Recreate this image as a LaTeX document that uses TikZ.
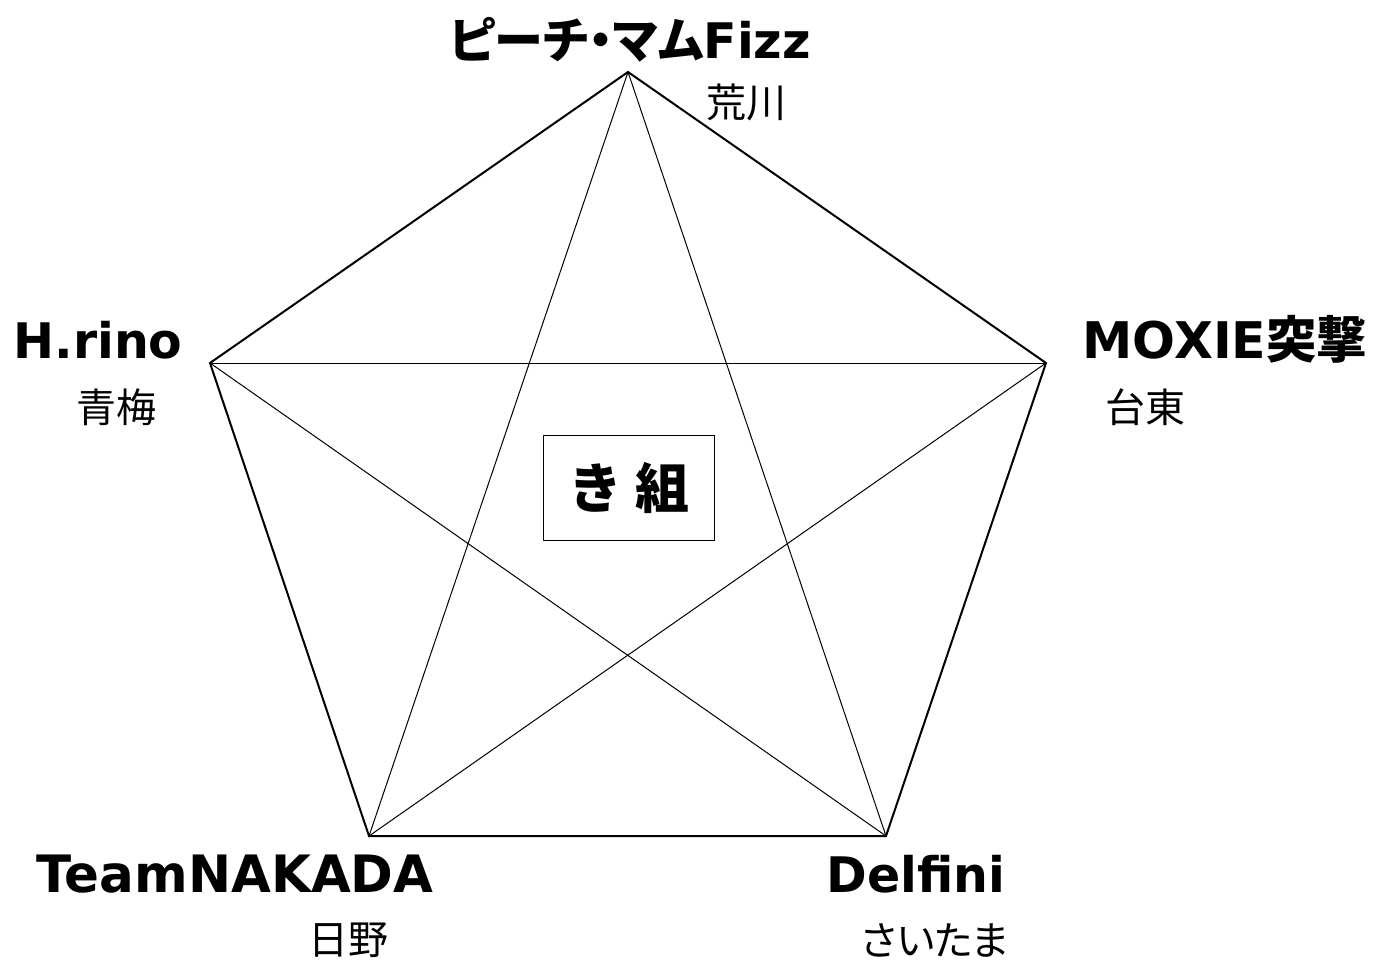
\documentclass[tikz,border=0pt]{standalone}
\usepackage{fontspec}
\setmainfont{DejaVu Sans}
\newfontfamily\jp{Noto Sans CJK JP}
\newfontfamily\jpp{Noto Sans CJK JP}[RawFeature=+palt]
\begin{document}
\begin{tikzpicture}[x=1pt,y=-1pt,
  outer/.style={line width=2pt,line join=miter},
  inner/.style={line width=1pt},
  teamlabel/.style={anchor=base,inner sep=0pt,font=\fontsize{49}{50}\selectfont\bfseries},
  homelabel/.style={anchor=center,inner sep=0pt,font=\fontsize{40}{42}\selectfont\jp}]
\useasboundingbox (0,0) rectangle (1391,967);
\coordinate (T) at (628,72);
\coordinate (L) at (210,363);
\coordinate (R) at (1046,363);
\coordinate (BL) at (369,836);
\coordinate (BR) at (886,836);
\draw[outer] (T) -- (R) -- (BR) -- (BL) -- (L) -- cycle;
\draw[inner] (T) -- (BL);
\draw[inner] (T) -- (BR);
\draw[inner] (L) -- (R);
\draw[inner] (L) -- (BR);
\draw[inner] (R) -- (BL);
\node[draw,line width=1.5pt,fill=white,minimum width=171pt,minimum height=105pt,inner sep=0pt,
  font=\fontsize{54}{56}\selectfont\jp\bfseries] (grp) at (629,488) {き 組};
\node[teamlabel] (t1) at (630,58) {{\jpp\bfseries ピーチ・マム}Fizz};
\node[homelabel] (h1) at (746,102) {荒川};
\node[teamlabel] (t2) at (98,358) {H.rino};
\node[homelabel] (h2) at (116,407) {青梅};
\node[teamlabel,font=\fontsize{50.5}{52}\selectfont\bfseries] (t3) at (1225,358) {MOXIE{\jp\bfseries 突撃}};
\node[homelabel] (h3) at (1145,407) {台東};
\node[teamlabel,font=\fontsize{51.5}{52}\selectfont\bfseries] (t4) at (235,892) {TeamNAKADA};
\node[homelabel] (h4) at (348,940) {日野};
\node[teamlabel] (t5) at (916,892) {Delfini};
\node[homelabel,font=\fontsize{40}{42}\selectfont\jpp] (h5) at (935,940) {さいたま};
\end{tikzpicture}
\end{document}
